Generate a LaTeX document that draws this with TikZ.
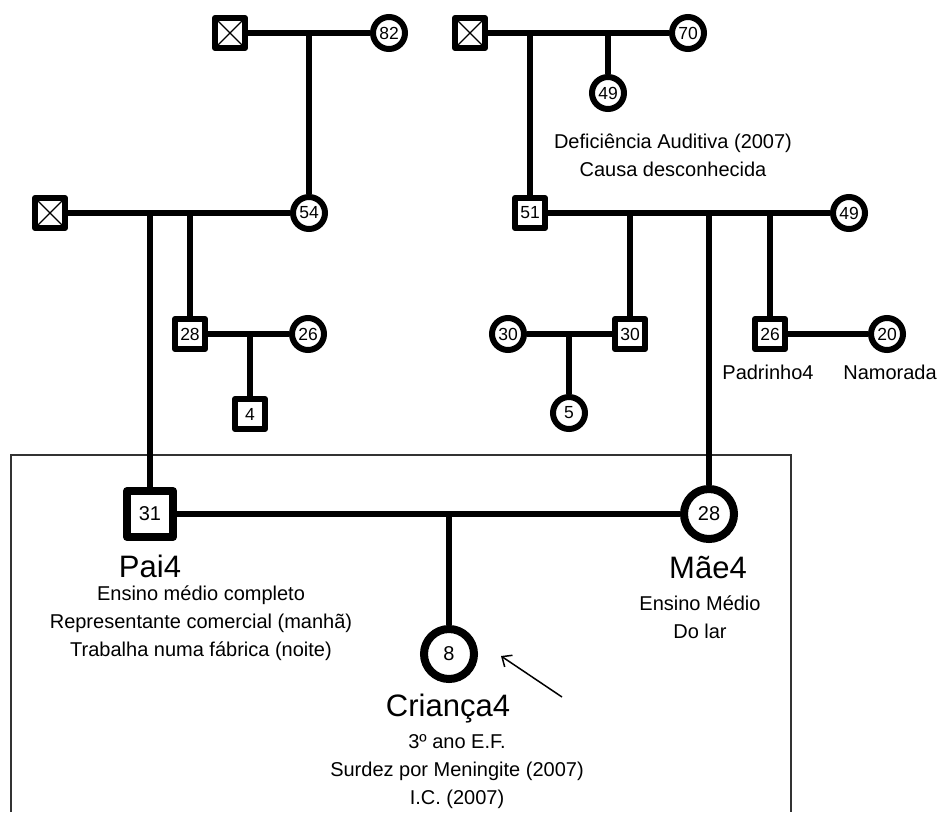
\documentclass[tikz,border=0pt]{standalone}
\usepackage{fontspec}
\setmainfont{Liberation Sans}
\usetikzlibrary{positioning,arrows.meta}

\tikzset{
  male/.style={draw,fill=white,rectangle,line width=6pt,line join=round,minimum size=30pt,inner sep=0pt,font=\fontsize{17.5}{17.5}\selectfont},
  female/.style={draw,fill=white,circle,line width=6pt,minimum size=32pt,inner sep=0pt,font=\fontsize{17.5}{17.5}\selectfont},
  dead/.style={path picture={\draw[line width=1.3pt]
    (path picture bounding box.north west) -- (path picture bounding box.south east)
    (path picture bounding box.south west) -- (path picture bounding box.north east);}},
  bigm/.style={line width=8pt,minimum size=46pt,font=\fontsize{20}{20}\selectfont},
  bigf/.style={line width=8pt,minimum size=50pt,font=\fontsize{20}{20}\selectfont},
  info/.style={align=center,inner sep=0pt,font=\fontsize{20}{28}\selectfont},
  nome/.style={inner sep=0pt,font=\fontsize{31}{31}\selectfont}
}

\begin{document}
\begin{tikzpicture}[x=1pt,y=-1pt,line width=6pt]
\useasboundingbox (0,0) rectangle (942,812);

% moldura do nucleo familiar
\draw[line width=1.5pt,black!80] (11,812) -- (11,455) -- (791,455) -- (791,812);

% avos
\node[male,dead] (av1) at (230,33) {};
\node[female] (av2) at (389,33) {82};
\node[male,dead] (av3) at (470,33) {};
\node[female] (av4) at (688,33) {70};
\node[female] (tia) at (608,93) {49};
\node[male,dead] (avp) at (50,213) {};
\node[female] (avo) at (309,213) {54};
\node[male] (avm) at (530,213) {51};
\node[female] (avf) at (849,213) {49};

% tios e primos
\node[male] (t28) at (190,334) {28};
\node[female] (t26) at (308,334) {26};
\node[male] (p4) at (250,414) {4};
\node[female] (t30f) at (508,334) {30};
\node[male] (t30) at (630,334) {30};
\node[female] (p5) at (569,413) {5};
\node[male] (pad) at (770,334) {26};
\node[female] (nam) at (887,334) {20};

% nucleo
\node[male,bigm] (pai) at (150,514) {31};
\node[female,bigf] (mae) at (709,514) {28};
\node[female,bigf] (cri) at (449,654) {8};

\coordinate (d1) at (309,33);
\coordinate (d2) at (530,33);
\coordinate (d3) at (608,33);
\coordinate (d4) at (150,213);
\coordinate (d5) at (190,213);
\coordinate (d6) at (250,334);
\coordinate (d7) at (630,213);
\coordinate (d8) at (569,334);
\coordinate (d9) at (709,213);
\coordinate (d10) at (770,213);
\coordinate (d11) at (449,514);

\path
(av1) edge (av2)
(d1) edge (avo)
(av3) edge (av4)
(d2) edge (avm)
(d3) edge (tia)
(avp) edge (avo)
(d4) edge (pai)
(d5) edge (t28)
(t28) edge (t26)
(d6) edge (p4)
(avm) edge (avf)
(d7) edge (t30)
(t30f) edge (t30)
(d8) edge (p5)
(d9) edge (mae)
(d10) edge (pad)
(pad) edge (nam)
(pai) edge (mae)
(d11) edge (cri)
;

% textos
\node[info] (ldef) at (673,155) {Deficiência Auditiva (2007)\\Causa desconhecida};
\node[info] (lpad) at (768,372) {Padrinho4};
\node[info] (lnam) at (890,372) {Namorada};
\node[nome] (lpai) at (150,566) {Pai4};
\node[info] (ipai) at (201,623) {Ensino médio completo\\Representante comercial (manhã)\\Trabalha numa fábrica (noite)};
\node[nome] (lmae) at (708,568) {Mãe4};
\node[info] (imae) at (700,617) {Ensino Médio\\Do lar};
\node[nome] (lcri) at (448,709) {Criança4};
\node[info] (icri) at (457,772) {3º ano E.F.\\Surdez por Meningite (2007)\\I.C. (2007)};

% seta
\coordinate (seta) at (562,697);
\coordinate (alvo) at (501,656);
\draw[-{Straight Barb[length=8pt,width=14pt]},line width=1.5pt] (seta) -- (alvo);
\end{tikzpicture}
\end{document}
